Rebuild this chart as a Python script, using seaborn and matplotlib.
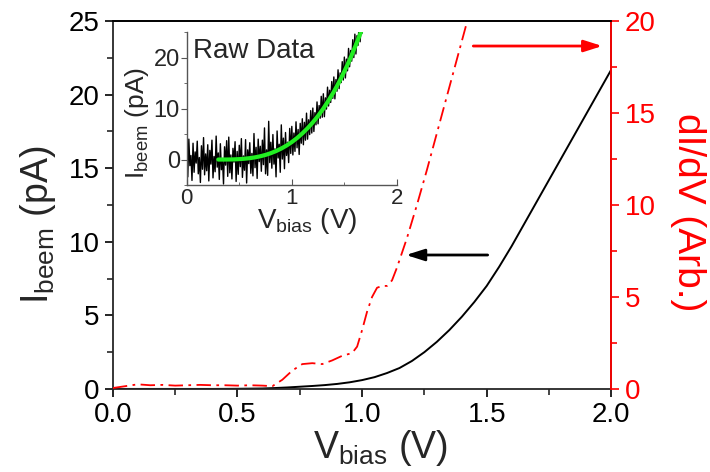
import numpy as np
import matplotlib
matplotlib.use("Agg")
import matplotlib.pyplot as plt
import seaborn as sns
from matplotlib.ticker import MultipleLocator

# --- main panel: BEEM current (left axis) ---
v_main = [0.0, 0.1, 0.2, 0.3, 0.4, 0.5, 0.6, 0.65, 0.7, 0.75, 0.8, 0.85, 0.9, 0.95,
          1.0, 1.05, 1.1, 1.15, 1.2, 1.25, 1.3, 1.35, 1.4, 1.45, 1.5, 1.55, 1.6,
          1.65, 1.7, 1.75, 1.8, 1.85, 1.9, 1.95, 2.0]
i_beem = [0.0, 0.0, 0.0, 0.0, 0.0, 0.01, 0.03, 0.06, 0.1, 0.15, 0.2, 0.26, 0.34, 0.45,
          0.6, 0.8, 1.08, 1.42, 1.9, 2.5, 3.2, 4.0, 4.9, 5.9, 7.0, 8.3, 9.7,
          11.2, 12.7, 14.2, 15.7, 17.2, 18.7, 20.2, 21.7]

# --- main panel: dI/dV (right axis) ---
v_didv = [0.0, 0.05, 0.1, 0.15, 0.2, 0.25, 0.3, 0.35, 0.4, 0.45, 0.5, 0.55, 0.6, 0.64,
          0.68, 0.72, 0.76, 0.8, 0.84, 0.88, 0.92, 0.96, 0.98, 1.0, 1.02, 1.04, 1.06,
          1.08, 1.1, 1.12, 1.14, 1.16, 1.18, 1.22, 1.26, 1.3, 1.34, 1.38, 1.42, 1.45]
didv = [0.05, 0.15, 0.25, 0.2, 0.22, 0.18, 0.2, 0.22, 0.2, 0.2, 0.18, 0.2, 0.18, 0.15,
        0.5, 1.0, 1.35, 1.4, 1.35, 1.55, 1.8, 1.95, 2.3, 3.2, 4.2, 5.0, 5.5,
        5.6, 5.6, 5.9, 6.6, 7.4, 8.2, 10.0, 11.9, 13.9, 15.9, 17.9, 19.9, 21.4]

# --- inset: raw data (0.00 .. 1.70 V in 0.01 V steps) and fit ---
v_raw = np.round(np.arange(0, 171) * 0.01, 2)
i_raw = [2.1, -3.4, 4.0, -1.2, 0.8, -4.1, 3.2, -2.5, 1.5, -0.7,
         3.6, -2.8, 0.4, -4.5, 2.7, -1.9, 4.3, -3.0, 1.1, -2.2,
         2.9, -4.2, 1.8, -0.9, 3.8, -3.6, 0.6, -2.4, 4.6, -1.5,
         1.3, -3.9, 3.1, -2.0, 0.2, -4.8, 2.5, -1.1, 3.7, -3.3,
         4.4, -2.6, 0.9, -3.8, 2.2, -0.5, 3.5, -4.3, 1.6, -2.9,
         2.8, -1.4, 4.1, -3.5, 0.7, -2.1, 3.9, -4.6, 1.9, -0.8,
         3.3, -2.7, 1.2, -3.2, 5.1, -1.6, 2.4, -3.7, 4.0, -0.4,
         2.6, -2.3, 3.8, -1.0, 6.2, -2.8, 1.9, -3.1, 7.5, -0.6,
         3.4, -1.7, 4.9, -0.9, 2.1, -3.4, 5.6, 0.3, 3.0, -2.5,
         6.8, 0.1, 4.2, -1.8, 5.3, 0.8, 3.4, -0.6, 6.1, 1.2,
         6.5, 0.9, 5.2, 1.6, 7.4, 2.3, 5.9, 1.0, 7.1, 3.2,
         8.0, 2.9, 7.3, 3.8, 9.1, 4.0, 7.8, 4.9, 9.6, 5.2,
         10.1, 5.5, 9.2, 6.8, 11.3, 7.0, 10.6, 8.1, 12.4, 8.3,
         12.9, 8.4, 12.1, 9.9, 14.2, 10.5, 13.6, 11.2, 15.3, 12.0,
         16.2, 11.9, 15.7, 13.4, 17.6, 13.9, 17.0, 15.1, 19.2, 15.6,
         20.1, 16.0, 19.7, 17.4, 21.8, 18.2, 21.4, 19.3, 23.5, 20.0,
         24.6, 20.7, 24.3, 22.4, 26.5, 23.1, 26.0, 24.8, 28.1, 25.5, 28.9]
v_fit = [0.3, 0.35, 0.4, 0.45, 0.5, 0.55, 0.6, 0.65, 0.7, 0.75, 0.8, 0.85, 0.9, 0.95,
         1.0, 1.05, 1.1, 1.15, 1.2, 1.25, 1.3, 1.35, 1.4, 1.45, 1.5, 1.55, 1.6, 1.65, 1.7]
i_fit = [0.0, 0.0, 0.01, 0.03, 0.08, 0.16, 0.27, 0.43, 0.64, 0.91, 1.25, 1.66, 2.16, 2.75,
         3.43, 4.22, 5.12, 6.14, 7.29, 8.57, 10.0, 11.6, 13.3, 15.2, 17.3, 19.5, 22.0, 24.6, 27.4]

sns.set_style("ticks")
plt.rcParams["font.family"] = ["Liberation Sans", "DejaVu Sans"]
plt.rcParams["mathtext.default"] = "regular"

fig = plt.figure(figsize=(7.1, 4.72), dpi=100)
ax = fig.add_axes([0.159, 0.176, 0.702, 0.7795])
ax2 = ax.twinx()

sns.lineplot(x=v_main, y=i_beem, ax=ax, color="black", linewidth=1.4, sort=False, estimator=None)
sns.lineplot(x=v_didv, y=didv, ax=ax2, color="red", linewidth=1.3, sort=False, estimator=None,
             linestyle=(0, (8, 3, 1.5, 3)))

ax.set_xlim(0, 2.0)
ax.set_ylim(0, 25)
ax2.set_ylim(0, 20)
ax.xaxis.set_major_locator(MultipleLocator(0.5))
ax.xaxis.set_minor_locator(MultipleLocator(0.25))
ax.yaxis.set_major_locator(MultipleLocator(5))
ax.yaxis.set_minor_locator(MultipleLocator(2.5))
ax2.yaxis.set_major_locator(MultipleLocator(5))
ax2.yaxis.set_minor_locator(MultipleLocator(2.5))
ax.xaxis.set_major_formatter(plt.FormatStrFormatter("%.1f"))

for a in (ax, ax2):
    for s in a.spines.values():
        s.set_linewidth(1.3)
ax.tick_params(which="major", direction="out", length=6, width=1.2, labelsize=20, colors="black")
ax.tick_params(which="minor", direction="out", length=4, width=1.2)
ax2.tick_params(which="major", direction="out", length=6, width=1.2, labelsize=20,
                colors="red")
ax2.tick_params(which="minor", direction="out", length=4, width=1.2, colors="red")
ax2.spines["right"].set_color("red")
ax2.spines["left"].set_visible(False)
ax2.spines["top"].set_color("black")
ax2.spines["bottom"].set_visible(False)

ax.set_xlabel(r"V$_{bias}$ (V)", fontsize=27)
ax.xaxis.set_label_coords(0.536, -0.107)
ax.set_ylabel(r"I$_{beem}$ (pA)", fontsize=27)
ax.yaxis.set_label_coords(-0.11, 0.446)
ax2.set_ylabel("dI/dV (Arb.)", fontsize=28, color="red", rotation=270, va="bottom")
ax2.yaxis.set_label_coords(1.117, 0.48)

head = "-|>,head_length=1.1,head_width=0.35"
ax.annotate("", xy=(1.165, 9.1), xytext=(1.515, 9.1),
            arrowprops=dict(arrowstyle=head, color="black", lw=2))
ax.annotate("", xy=(1.975, 23.3), xytext=(1.435, 23.3),
            arrowprops=dict(arrowstyle=head, color="red", lw=2))

# inset
axi = fig.add_axes([0.263, 0.608, 0.296, 0.324])
axi.patch.set_alpha(0)
sns.lineplot(x=v_raw, y=i_raw, ax=axi, color="black", linewidth=1.0, sort=False, estimator=None)
sns.lineplot(x=v_fit, y=i_fit, ax=axi, color="#22ee22", linewidth=3, sort=False, estimator=None)
axi.set_xlim(0, 2)
axi.set_ylim(-5, 25)
axi.xaxis.set_major_locator(MultipleLocator(1))
axi.xaxis.set_minor_locator(MultipleLocator(0.5))
axi.yaxis.set_major_locator(MultipleLocator(10))
axi.yaxis.set_minor_locator(MultipleLocator(5))
for side in ("top", "right"):
    axi.spines[side].set_visible(False)
for side in ("left", "bottom"):
    axi.spines[side].set_color("#555555")
    axi.spines[side].set_linewidth(1.0)
axi.tick_params(axis="x", which="both", direction="in", labelsize=16, pad=2)
axi.tick_params(axis="y", which="both", direction="out", labelsize=17, pad=1)
axi.tick_params(which="major", length=4, color="#555555")
axi.tick_params(which="minor", length=2.5, color="#555555")
axi.set_xlabel(r"V$_{bias}$ (V)", fontsize=20, va="top")
axi.xaxis.set_label_coords(0.571, -0.14)
axi.set_ylabel(r"I$_{beem}$ (pA)", fontsize=19)
axi.yaxis.set_label_coords(-0.17, 0.405)
axi.text(0.03, 0.96, "Raw Data", transform=axi.transAxes, fontsize=20, va="top", ha="left")

fig.savefig("out.png", dpi=100)
